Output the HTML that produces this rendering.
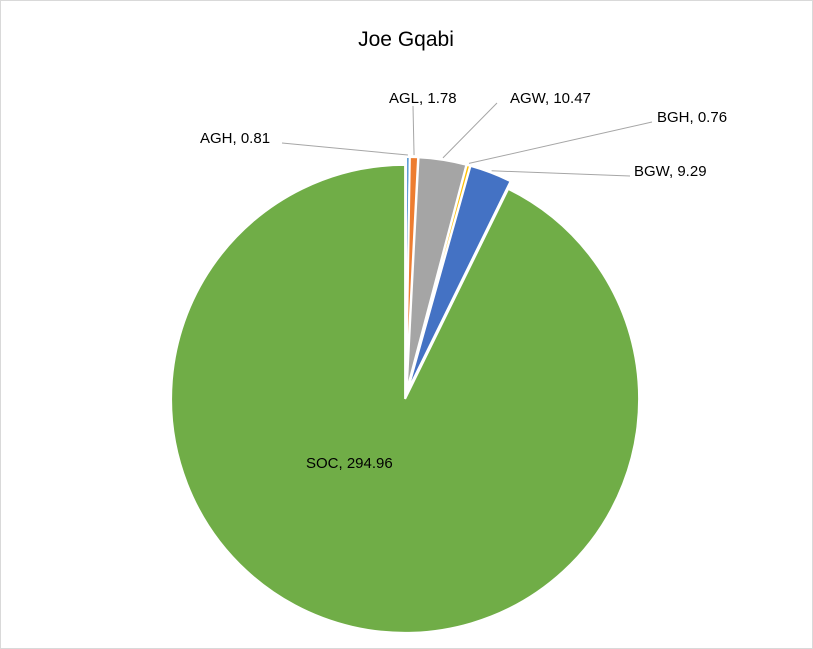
<!DOCTYPE html>
<html><head><meta charset="utf-8"><style>
body{margin:0;background:#fff;}
svg{display:block;font-family:"Liberation Sans",Calibri,sans-serif;}
</style></head><body>
<svg id="chart" width="813" height="649">
<rect x="0.5" y="0.5" width="812" height="648" fill="#fff" stroke="#d9d9d9"/>
<text x="406" y="46" font-size="21" text-anchor="middle" fill="#000">Joe Gqabi</text>
<g id="slices"></g>
<g id="labels"></g>
</svg>
<script>
const categories=["AGH","AGL","AGW","BGH","BGW","SOC"];
const values=[0.81,1.78,10.47,0.76,9.29,294.96];
const colors=["#5b9bd5","#ed7d31","#a5a5a5","#ffc000","#4472c4","#70ad47"];
const labelText=["AGH, 0.81","AGL, 1.78","AGW, 10.47","BGH, 0.76","BGW, 9.29","SOC, 294.96"];
const cx=406,cy=395,r=234,explode=4;
const NS="http://www.w3.org/2000/svg";
const total=values.reduce((a,b)=>a+b,0);
const gS=document.getElementById('slices'),gL=document.getElementById('labels');
// label placement (text anchor positions) and leader line endpoints
const labelPos=[[200,143,"start",[282,143]],[389,103,"start",[413,106]],[510,103,"start",[497,103]],[657,122,"start",[652,122]],[634,176,"start",[630,176]],[306,468,"start",null]];
let a=0;
values.forEach((v,i)=>{
  const a0=a,a1=a+v/total*2*Math.PI;a=a1;
  const mid=(a0+a1)/2;
  const ox=explode*Math.sin(mid),oy=-explode*Math.cos(mid);
  const x0=cx+ox+r*Math.sin(a0),y0=cy+oy-r*Math.cos(a0);
  const x1=cx+ox+r*Math.sin(a1),y1=cy+oy-r*Math.cos(a1);
  const large=(a1-a0)>Math.PI?1:0;
  const p=document.createElementNS(NS,'path');
  p.setAttribute('d',`M${cx+ox},${cy+oy} L${x0},${y0} A${r},${r} 0 ${large} 1 ${x1},${y1} Z`);
  p.setAttribute('fill',colors[i]);p.setAttribute('stroke','#fff');p.setAttribute('stroke-width','2');
  
  
  gS.appendChild(p);
  const lp=labelPos[i];
  if(lp[3]){
    const ex=cx+ox+(r+2)*Math.sin(mid),ey=cy+oy-(r+2)*Math.cos(mid);
    const l=document.createElementNS(NS,'polyline');
    const kx=lp[3][0],ky=lp[3][1];
    const pts = i===1 ? `${ex},${ey} ${kx},${ky}` : `${ex},${ey} ${kx},${ky}${i===0?' 282,143':''}`;
    l.setAttribute('points',pts);l.setAttribute('fill','none');l.setAttribute('stroke','#a6a6a6');l.setAttribute('stroke-width','1');
    
    
    gL.appendChild(l);
  }
  const t=document.createElementNS(NS,'text');
  t.setAttribute('x',lp[0]);t.setAttribute('y',lp[1]);t.setAttribute('font-size','15');t.setAttribute('fill','#000');
  t.textContent=labelText[i];
  
  
  gL.appendChild(t);
});
</script>
</body></html>
